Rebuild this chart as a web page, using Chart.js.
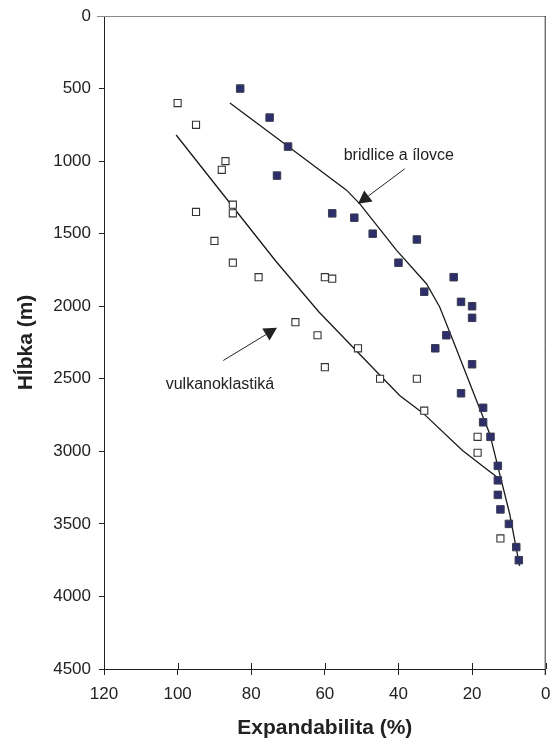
<!DOCTYPE html>
<html>
<head>
<meta charset="utf-8">
<script src="https://cdn.jsdelivr.net/npm/chart.js@4"></script>
<style>
    body { margin: 0; background: #fff; }
    #wrap { width: 552px; height: 740px; position: relative; }
</style>
</head>
<body>
<div id="wrap"><canvas id="expChart"></canvas></div>
<script>
// bridlice a ílovce (filled squares)
const shaleExp   = [83, 75, 70, 73, 58, 52, 47, 35, 40, 25, 33, 23, 20, 20, 27, 30, 20, 23, 17, 17, 15, 13, 13, 13, 12.3, 10, 8, 7.3];
const shaleDepth = [500, 700, 900, 1100, 1360, 1390, 1500, 1540, 1700, 1800, 1900, 1970, 2000, 2080, 2200, 2290, 2400, 2600, 2700, 2800, 2900, 3100, 3200, 3300, 3400, 3500, 3660, 3750];

// vulkanoklastiká (open squares)
const volcExp   = [100, 95, 87, 88, 85, 85, 95, 90, 85, 78, 60, 58, 68, 62, 51, 60, 45, 35, 33, 18.5, 18.5, 12.3];
const volcDepth = [600, 750, 1000, 1060, 1300, 1360, 1350, 1550, 1700, 1800, 1800, 1810, 2110, 2200, 2290, 2420, 2500, 2500, 2720, 2900, 3010, 3600];

// hand drawn trend curves
const shaleFitExp   = [85.8, 70.4, 54.1, 50.5, 40.5, 32.4, 28.8, 25.2, 18.8, 15.2, 12.5, 9.8, 7.1];
const shaleFitDepth = [600, 890, 1200, 1295, 1615, 1845, 2005, 2235, 2650, 2880, 3155, 3430, 3790];
const volcFitExp    = [100.4, 73.3, 61.6, 46.2, 39.6, 33.4, 22.6, 15.4, 11.8];
const volcFitDepth  = [820, 1690, 2040, 2445, 2617, 2735, 2994, 3135, 3205];

// labels with arrows: text anchor, arrow tail, arrow tip (data units)
const notes = [
    { text: 'bridlice a ílovce', at: [39.9, 961],  tail: [38.3, 1053], tip: [51.0, 1294] },
    { text: 'vulkanoklastiká',   at: [88.5, 2540], tail: [87.6, 2374], tip: [73.0, 2149] }
];

const toPoints = (xs, ys) => xs.map((x, i) => ({ x: x, y: ys[i] }));

const frameAndNotes = {
    id: 'frameAndNotes',
    afterDraw(chart) {
        const { ctx, chartArea: a, scales: { x, y } } = chart;
        ctx.save();
        // top and right frame
        ctx.lineWidth = 1;
        ctx.strokeStyle = '#8a8a8a';
        ctx.beginPath();
        ctx.moveTo(a.left - 7, a.top + 0.5);
        ctx.lineTo(a.right, a.top + 0.5);
        ctx.stroke();
        ctx.strokeStyle = '#333';
        ctx.beginPath();
        ctx.moveTo(a.right - 0.5, a.top);
        ctx.lineTo(a.right - 0.5, a.bottom + 6);
        ctx.stroke();
        // x ticks also cross above the axis
        ctx.strokeStyle = '#222';
        x.ticks.forEach(t => {
            const px = Math.round(x.getPixelForValue(t.value)) + 0.5;
            ctx.beginPath();
            ctx.moveTo(px, a.bottom - 6);
            ctx.lineTo(px, a.bottom);
            ctx.stroke();
        });
        // annotations
        ctx.font = '16px "Liberation Sans", Arial, sans-serif';
        ctx.fillStyle = '#222';
        ctx.textAlign = 'center';
        ctx.textBaseline = 'middle';
        notes.forEach(n => {
            ctx.fillText(n.text, x.getPixelForValue(n.at[0]), y.getPixelForValue(n.at[1]));
            const tx = x.getPixelForValue(n.tail[0]), ty = y.getPixelForValue(n.tail[1]);
            const hx = x.getPixelForValue(n.tip[0]), hy = y.getPixelForValue(n.tip[1]);
            const len = Math.hypot(hx - tx, hy - ty);
            const dx = (hx - tx) / len, dy = (hy - ty) / len;
            const bx = hx - dx * 13, by = hy - dy * 13;
            ctx.strokeStyle = '#222';
            ctx.lineWidth = 1;
            ctx.beginPath();
            ctx.moveTo(tx, ty);
            ctx.lineTo(bx, by);
            ctx.stroke();
            ctx.beginPath();
            ctx.moveTo(hx, hy);
            ctx.lineTo(bx - dy * 7, by + dx * 7);
            ctx.lineTo(bx + dy * 7, by - dx * 7);
            ctx.closePath();
            ctx.fill();
        });
        ctx.restore();
    }
};

document.addEventListener('DOMContentLoaded', function () {
    const canvas = document.getElementById('expChart');
    const tickFont = { family: '"Liberation Sans", Arial, sans-serif', size: 17 };
    const titleFont = { family: '"Liberation Sans", Arial, sans-serif', size: 21, weight: 'bold' };

    new Chart(canvas, {
        type: 'scatter',
        data: {
            datasets: [
                {
                    label: 'bridlice a ílovce',
                    data: toPoints(shaleExp, shaleDepth),
                    pointStyle: 'rect',
                    pointRadius: 5.3,
                    backgroundColor: '#2d2f6b',
                    borderColor: '#3b3c50',
                    borderWidth: 1,
                    order: 1
                },
                {
                    label: 'vulkanoklastiká',
                    data: toPoints(volcExp, volcDepth),
                    pointStyle: 'rect',
                    pointRadius: 5,
                    backgroundColor: '#fff',
                    borderColor: '#333',
                    borderWidth: 1.1,
                    order: 1
                },
                {
                    label: 'trend bridlice',
                    data: toPoints(shaleFitExp, shaleFitDepth),
                    showLine: true,
                    pointRadius: 0,
                    borderColor: '#1a1a1a',
                    borderWidth: 1.3,
                    tension: 0,
                    order: 2
                },
                {
                    label: 'trend vulkanoklastiká',
                    data: toPoints(volcFitExp, volcFitDepth),
                    showLine: true,
                    pointRadius: 0,
                    borderColor: '#1a1a1a',
                    borderWidth: 1.3,
                    tension: 0,
                    order: 2
                }
            ]
        },
        options: {
            responsive: true,
            maintainAspectRatio: false,
            animation: false,
            layout: { padding: { top: 16, right: 6, left: 0, bottom: 0 } },
            plugins: {
                legend: { display: false },
                tooltip: { enabled: false }
            },
            scales: {
                x: {
                    type: 'linear',
                    reverse: true,
                    min: 0,
                    max: 120,
                    ticks: { stepSize: 20, color: '#222', font: tickFont, padding: 9, maxRotation: 0 },
                    grid: { drawOnChartArea: false, tickLength: 6, color: '#222' },
                    border: { color: '#222', width: 1 },
                    title: { display: true, text: 'Expandabilita (%)', color: '#222', font: titleFont, padding: { top: 0, bottom: -1 } },
                    afterFit(scale) {
                        scale.height = 71;
                        scale.paddingLeft = 0;
                        scale.paddingRight = 0;
                    }
                },
                y: {
                    type: 'linear',
                    reverse: true,
                    min: 0,
                    max: 4500,
                    ticks: {
                        stepSize: 500, color: '#222', font: tickFont, padding: 8,
                        callback: v => String(v)
                    },
                    grid: { drawOnChartArea: false, tickLength: 5, color: '#222' },
                    border: { color: '#222', width: 1 },
                    title: { display: true, text: 'Hĺbka (m)', color: '#222', font: titleFont, padding: { top: 14, bottom: 0 } },
                    afterFit(scale) {
                        scale.width = 104;
                        scale.paddingTop = 0;
                        scale.paddingBottom = 0;
                    }
                }
            }
        },
        plugins: [frameAndNotes]
    });
});
</script>
</body>
</html>
